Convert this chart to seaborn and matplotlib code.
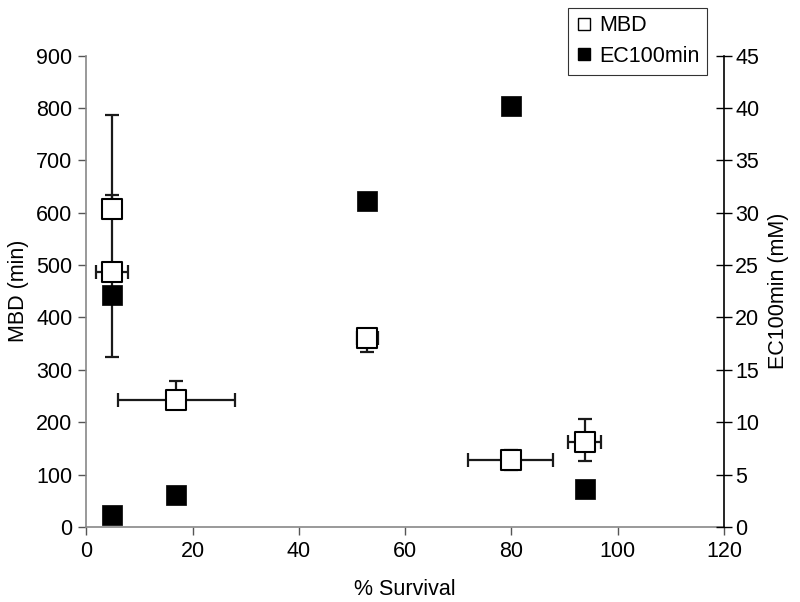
import matplotlib

matplotlib.use("Agg")
import matplotlib.pyplot as plt
import seaborn as sns
import pandas as pd
from matplotlib.lines import Line2D

# % survival for each sample (shared by both series)
survival = [4.8, 4.8, 16.9, 52.9, 79.9, 93.8]
survival_err = [0.0, 3.0, 11.0, 2.0, 8.0, 3.1]

# MBD (min) with asymmetric error bars
mbd = [608, 486, 243, 360, 128, 162]
mbd_err_low = [0, 161, 0, 26, 19, 36]
mbd_err_high = [26, 301, 35, 0, 19, 44]

# EC100min (mM)
ec100 = [1.15, 22.1, 3.05, 31.1, 40.2, 3.6]

sns.set_theme(style="white")
plt.rcParams["font.family"] = ["Liberation Sans", "DejaVu Sans"]
plt.rcParams.update({"text.color": "black", "axes.labelcolor": "black",
                     "xtick.labelcolor": "black", "ytick.labelcolor": "black"})

FS = 15.5

df = pd.DataFrame({"survival": survival, "mbd": mbd, "ec100": ec100})

fig = plt.figure(figsize=(8, 6.02), dpi=100)
ax = fig.add_axes([0.108, 0.1246, 0.797, 0.783])
ax2 = ax.twinx()

# error bars below the markers
ax.errorbar(
    survival, mbd,
    yerr=[mbd_err_low, mbd_err_high],
    xerr=survival_err,
    fmt="none", ecolor="#1a1a1a", elinewidth=1.6, capsize=5, capthick=1.6, zorder=2,
)
sns.scatterplot(
    data=df, x="survival", y="mbd", marker="s", s=195,
    color="white", edgecolor="black", linewidth=1.5, ax=ax, zorder=3, legend=False,
)
sns.scatterplot(
    data=df, x="survival", y="ec100", marker="s", s=215,
    color="black", edgecolor="black", linewidth=0.5, ax=ax2, zorder=3, legend=False,
)

ax.set_xlim(0, 120)
ax.set_ylim(0, 900)
ax2.set_ylim(0, 45)
ax.set_xticks(range(0, 121, 20))
ax.set_yticks(range(0, 901, 100))
ax2.set_yticks(range(0, 46, 5))

ax.set_xlabel("% Survival", fontsize=FS, labelpad=12)
ax.set_ylabel("MBD (min)", fontsize=FS, labelpad=5)
ax2.set_ylabel("EC100min (mM)", fontsize=FS, labelpad=6)

ax.spines["top"].set_visible(False)
ax2.spines["top"].set_visible(False)
ax.spines["right"].set_visible(False)
ax.spines["left"].set_color("#888888")
ax.spines["bottom"].set_color("#888888")
ax2.spines["left"].set_visible(False)
ax2.spines["bottom"].set_visible(False)
ax2.spines["right"].set_color("black")
for s in ax.spines.values():
    s.set_linewidth(1.2)
ax2.spines["right"].set_linewidth(1.2)

ax.tick_params(axis="both", labelsize=FS, length=6, width=1, direction="out",
               color="#555555", left=True, bottom=True, pad=4)
ax2.tick_params(axis="y", labelsize=FS, length=12, width=1, direction="inout",
                color="black", right=True, pad=2)

handles = [
    Line2D([], [], marker="s", linestyle="none", markersize=9,
           markerfacecolor="white", markeredgecolor="black", markeredgewidth=1),
    Line2D([], [], marker="s", linestyle="none", markersize=9,
           markerfacecolor="black", markeredgecolor="black"),
]
leg = fig.legend(handles, ["MBD", "EC100min"], loc="upper right",
                 bbox_to_anchor=(0.897, 1.005), fontsize=FS, frameon=True,
                 fancybox=False, edgecolor="black", handlelength=0.8,
                 handletextpad=0.3, borderpad=0.35, labelspacing=0.45)
leg.get_frame().set_linewidth(0.8)

fig.savefig("out.png", dpi=100)
plt.close(fig)
